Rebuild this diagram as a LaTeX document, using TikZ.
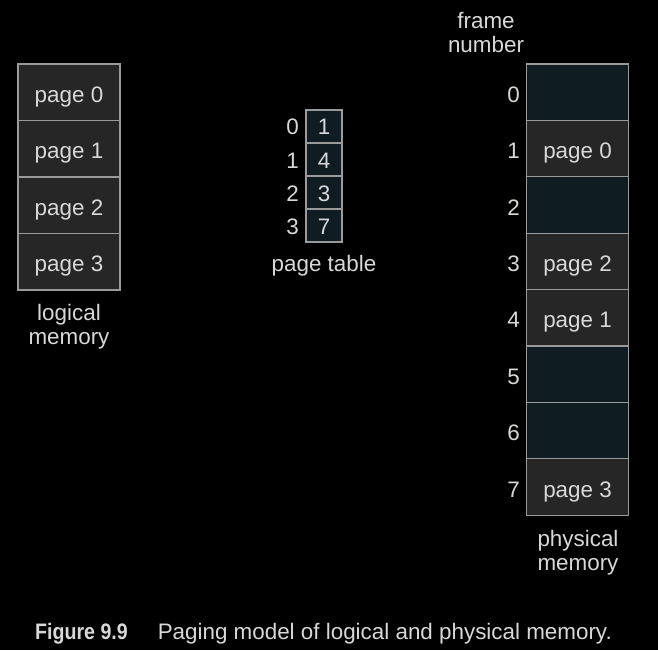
\documentclass[tikz,border=0pt]{standalone}
\usepackage{fontspec}
\setmainfont{Liberation Sans}
\begin{document}
\begin{tikzpicture}[x=1pt,y=-1pt,
  txt/.style={text=txtc,font=\fontsize{22.4}{24}\selectfont,inner sep=0pt},
  celltxt/.style={text=txtc,font=\fontsize{22.4}{24}\selectfont,text height=20pt,text depth=0pt},
  graycell/.style={celltxt,draw=edgec,line width=1.2pt,fill=cellgray,minimum width=102pt,minimum height=56.4pt,inner sep=0pt},
  tealcell/.style={graycell,fill=cellteal},
  ptcell/.style={celltxt,draw=edgec,line width=1.2pt,fill=cellteal,minimum width=36pt,minimum height=33pt,inner sep=0pt,text height=17pt}]
\definecolor{txtc}{HTML}{D8D8D8}
\definecolor{edgec}{HTML}{9A9A9A}
\definecolor{cellgray}{HTML}{262626}
\definecolor{cellteal}{HTML}{0F1C22}
\fill[black] (0,0) rectangle (658,650);
\useasboundingbox (0,0) rectangle (658,650);
% logical memory
\foreach \i in {0,...,3}{
  \node[graycell] (l\i) at (69,{92.2+56.5*\i}) {page \i};
}
\node[txt,align=center] (lmlab) at (69,327) {logical\\memory};
% page table
\foreach \i/\v in {0/1,1/4,2/3,3/7}{
  \node[ptcell] (p\i) at (324,{126.5+33*\i}) {\v};
  \node[celltxt,inner sep=0pt,text height=17pt,anchor=east] (pi\i) at (299,{126.5+33*\i}) {\i};
}
\node[txt] (ptlab) at (324,266) {page table};
% physical memory
\foreach \i/\s/\t in {0/tealcell/,1/graycell/page 0,2/tealcell/,3/graycell/page 2,4/graycell/page 1,5/tealcell/,6/tealcell/,7/graycell/page 3}{
  \node[\s] (f\i) at (577.5,{92.2+56.4*\i}) {\t};
  \node[celltxt,inner sep=0pt,anchor=east] (fi\i) at (520,{92.2+56.4*\i}) {\i};
}
\node[txt,align=center] (fnlab) at (486,33) {frame\\number};
\node[txt,align=center] (pmlab) at (578,553) {physical\\memory};
% caption
\node[anchor=base west,inner sep=0pt,text=txtc,font=\fontsize{22.4}{25}\selectfont] (cap) at (35,639) {\scalebox{0.875}[1]{\bfseries Figure 9.9}\hspace{30pt}Paging model of logical and physical memory.};
\end{tikzpicture}
\end{document}
